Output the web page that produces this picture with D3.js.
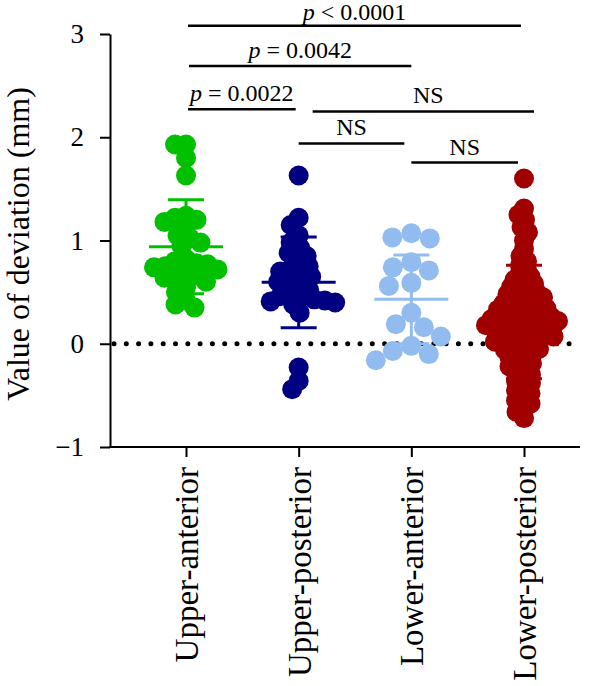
<!DOCTYPE html>
<html>
<head>
<meta charset="utf-8">
<script src="https://cdn.jsdelivr.net/npm/d3@7"></script>
<style>
  body { margin: 0; background: #fff; }
</style>
</head>
<body>
<svg id="chart"></svg>
<script>
// Groups and colours
var categories = ["Upper-anterior", "Upper-posterior", "Lower-anterior", "Lower-posterior"];
var colors = ["#00c000", "#000080", "#92bcf0", "#a00000"];

// Individual deviations (mm)
var upperAnterior = [1.93, 1.93, 1.80, 1.63, 1.24, 1.22, 1.20, 1.18, 1.12, 1.05, 1.02, 0.98, 0.95, 0.82, 0.80,
                     0.78, 0.77, 0.75, 0.74, 0.72, 0.70, 0.68, 0.66, 0.64, 0.60, 0.55, 0.50, 0.42, 0.38, 0.35];
var upperPosterior = [1.63, 1.22, 1.15, 1.05, 0.98, 0.93, 0.88, 0.85, 0.80, 0.75, 0.72, 0.70, 0.68, 0.65, 0.62,
                      0.60, 0.55, 0.52, 0.48, 0.46, 0.45, 0.43, 0.42, 0.41, 0.40, 0.38, 0.30, -0.23, -0.36, -0.44];
var lowerAnterior = [1.07, 1.02, 1.03, 0.79, 0.71, 0.74, 0.56, 0.59, 0.30, 0.16, 0.19, 0.07, -0.02, -0.10, -0.07, -0.16];
var lowerPosterior = [1.60, 1.31, 1.25, 1.20, 1.13, 1.08, 1.00, 0.92, 0.85, 0.80, 0.76, 0.72, 0.68, 0.65, 0.62,
                      0.60, 0.58, 0.55, 0.53, 0.51, 0.50, 0.48, 0.46, 0.45, 0.43, 0.42, 0.40, 0.39, 0.38, 0.36,
                      0.35, 0.34, 0.33, 0.31, 0.30, 0.29, 0.28, 0.27, 0.26, 0.25, 0.24, 0.23, 0.22, 0.22, 0.21,
                      0.20, 0.19, 0.18, 0.17, 0.16, 0.15, 0.14, 0.13, 0.12, 0.11, 0.10, 0.09, 0.08, 0.07, 0.06,
                      0.05, 0.04, 0.03, 0.02, 0.01, 0.00, -0.02, -0.04, -0.05, -0.06, -0.08, -0.10, -0.12, -0.13,
                      -0.16, -0.19, -0.20, -0.22, -0.26, -0.28, -0.30, -0.34, -0.36, -0.38, -0.43, -0.45, -0.48,
                      -0.53, -0.55, -0.58, -0.63, -0.66, -0.72];

// Mean and SD as drawn
var means = [0.94, 0.595, 0.43, 0.21];
var sds = [0.455, 0.44, 0.43, 0.55];

var yTicks = [-1, 0, 1, 2, 3];

// Significance brackets
var bracketFrom = [0, 0, 0, 1, 1, 2];
var bracketTo = [3, 2, 1, 3, 2, 3];
var bracketLevel = [3.08, 2.69, 2.27, 2.25, 1.94, 1.755];
var bracketLabel = ["< 0.0001", "= 0.0042", "= 0.0022", "NS", "NS", "NS"];

var groups = [upperAnterior, upperPosterior, lowerAnterior, lowerPosterior];

var width = 600, height = 686;
var serif = "'Liberation Serif', 'Times New Roman', serif";
var svg = d3.select("#chart").attr("width", width).attr("height", height)
            .style("font-family", serif);

var y = d3.scaleLinear().domain([-1, 3]).range([447, 34]);
var x = d3.scalePoint().domain(categories).range([186, 524]);

var r = 10;

// zero reference line (dotted)
svg.append("line")
   .attr("x1", 114).attr("x2", 570)
   .attr("y1", y(0)).attr("y2", y(0))
   .attr("stroke", "#000")
   .attr("stroke-width", 5)
   .attr("stroke-linecap", "round")
   .attr("stroke-dasharray", "0,12.3");

// simple greedy beeswarm
function swarm(values, cx, minDist) {
  var sorted = values.map(function(v, i) { return {v: v, i: i}; })
                     .sort(function(a, b) { return b.v - a.v; });
  var placed = [];
  sorted.forEach(function(d) {
    var py = y(d.v);
    var off = 0;
    for (var k = 0; k < 400; k++) {
      var cand = (k % 2 === 0 ? 1 : -1) * Math.ceil(k / 2) * 0.5;
      var ok = placed.every(function(p) {
        var dx = p.x - (cx + cand), dy = p.y - py;
        return dx * dx + dy * dy >= minDist * minDist;
      });
      if (ok) { off = cand; break; }
    }
    placed.push({x: cx + off, y: py, v: d.v});
  });
  return placed;
}

var minDists = [11, 10.5, 19, 8];

groups.forEach(function(vals, gi) {
  var cx = x(categories[gi]);
  var pts = swarm(vals, cx, minDists[gi]);

  // mean and SD bars
  var g = svg.append("g").attr("stroke", colors[gi]).attr("stroke-width", 3);

  svg.append("g")
     .selectAll("circle")
     .data(pts)
     .enter().append("circle")
     .attr("cx", d => d.x)
     .attr("cy", d => d.y)
     .attr("r", r)
     .attr("fill", colors[gi]);

  g.append("line")
   .attr("x1", cx - 37).attr("x2", cx + 37)
   .attr("y1", y(means[gi])).attr("y2", y(means[gi]));
  g.append("line")
   .attr("x1", cx).attr("x2", cx)
   .attr("y1", y(means[gi] + sds[gi])).attr("y2", y(means[gi] - sds[gi]));
  [means[gi] + sds[gi], means[gi] - sds[gi]].forEach(function(v) {
    g.append("line")
     .attr("x1", cx - 18).attr("x2", cx + 18)
     .attr("y1", y(v)).attr("y2", y(v));
  });
});

// y axis
var yAxis = svg.append("g")
   .attr("transform", "translate(110,0)")
   .call(d3.axisLeft(y).tickValues(yTicks).tickFormat(d3.format("d"))
           .tickSize(10).tickPadding(16).tickSizeOuter(0));
yAxis.selectAll("path, line").attr("stroke-width", 2);
yAxis.selectAll("text").style("font-family", serif).style("font-size", "27px");

// x axis
var xAxis = svg.append("g")
   .attr("transform", "translate(0,447)")
   .call(d3.axisBottom(x).tickSize(10).tickPadding(10).tickSizeOuter(0));
xAxis.select(".domain").attr("d", "M109,0H580");
xAxis.selectAll("path, line").attr("stroke-width", 2);
xAxis.selectAll("text")
     .style("font-family", serif)
     .style("font-size", "33px")
     .attr("text-anchor", "end")
     .attr("dy", "0.35em")
     .attr("transform", "translate(0,20) rotate(-90)")
     .attr("x", 0)
     .attr("y", 0);

// y axis title
svg.append("text")
   .attr("transform", "translate(29,244) rotate(-90)")
   .attr("text-anchor", "middle")
   .style("font-size", "32px")
   .text("Value of deviation (mm)");

// brackets
var insetL = [2, 3, 2, 14, 0, 0];
var insetR = [-3, 0, -3, 10, -7, -6];
bracketFrom.forEach(function(f, i) {
  var x1 = x(categories[f]) + insetL[i];
  var x2 = x(categories[bracketTo[i]]) + insetR[i];
  var by = y(bracketLevel[i]);
  svg.append("line")
     .attr("x1", x1).attr("x2", x2)
     .attr("y1", by).attr("y2", by)
     .attr("stroke", "#000").attr("stroke-width", 2.5);
  var t = svg.append("text")
     .attr("x", (x1 + x2) / 2 + (i === 3 ? 5 : 0))
     .attr("y", Math.max(by - 8, 20))
     .attr("text-anchor", "middle")
     .style("font-size", "24px");
  if (bracketLabel[i] === "NS") {
    t.text("NS");
  } else {
    t.append("tspan").style("font-style", "italic").text("p");
    t.append("tspan").text(" " + bracketLabel[i]);
  }
});
</script>
</body>
</html>
